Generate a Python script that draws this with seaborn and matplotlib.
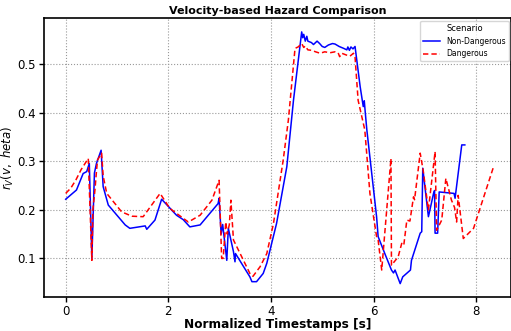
import matplotlib
matplotlib.use("Agg")
import matplotlib.pyplot as plt
import seaborn as sns
import pandas as pd

# Non-Dangerous scenario
nd_x = [0.00, 0.21, 0.34, 0.41, 0.46, 0.51, 0.56, 0.60, 0.69, 0.73, 0.83, 1.16, 1.25, 1.55, 1.58,
        1.74, 1.87, 2.16, 2.29, 2.42, 2.62, 2.97, 2.99, 3.03, 3.06, 3.14, 3.17, 3.27, 3.30, 3.31,
        3.59, 3.63, 3.72, 3.85, 3.92, 4.11, 4.31, 4.44, 4.60, 4.62, 4.64, 4.67, 4.70, 4.72, 4.79,
        4.83, 4.90, 4.95, 5.00, 5.05, 5.12, 5.20, 5.25, 5.33, 5.42, 5.48, 5.50, 5.53, 5.56, 5.60,
        5.64, 5.74, 5.80, 5.82, 5.84, 5.87, 6.06, 6.09, 6.22, 6.35, 6.39, 6.42, 6.52, 6.57, 6.72,
        6.74, 6.91, 6.94, 6.96, 7.07, 7.10, 7.17, 7.19, 7.20, 7.25, 7.28, 7.57, 7.59, 7.72, 7.78]
nd_y = [0.222, 0.241, 0.275, 0.279, 0.296, 0.100, 0.276, 0.296, 0.323, 0.248, 0.210, 0.169, 0.162, 0.167, 0.160,
        0.179, 0.222, 0.189, 0.180, 0.165, 0.169, 0.213, 0.224, 0.150, 0.170, 0.096, 0.162, 0.114, 0.093, 0.110,
        0.062, 0.052, 0.052, 0.069, 0.090, 0.172, 0.289, 0.426, 0.567, 0.555, 0.562, 0.548, 0.558, 0.548, 0.545,
        0.541, 0.548, 0.543, 0.537, 0.535, 0.540, 0.543, 0.542, 0.537, 0.533, 0.530, 0.536, 0.529, 0.536, 0.532,
        0.537, 0.454, 0.413, 0.425, 0.400, 0.365, 0.186, 0.145, 0.110, 0.076, 0.070, 0.076, 0.048, 0.062, 0.076,
        0.096, 0.152, 0.155, 0.286, 0.186, 0.200, 0.234, 0.240, 0.152, 0.152, 0.237, 0.234, 0.224, 0.334, 0.334]

# Dangerous scenario
d_x = [0.00, 0.10, 0.20, 0.30, 0.44, 0.51, 0.53, 0.57, 0.60, 0.62, 0.70, 0.73, 0.80, 1.09, 1.29,
       1.51, 1.84, 2.03, 2.39, 2.62, 2.85, 2.99, 3.04, 3.07, 3.12, 3.15, 3.19, 3.22, 3.27, 3.40,
       3.59, 3.65, 3.79, 3.92, 4.05, 4.24, 4.34, 4.47, 4.53, 4.60, 4.64, 4.67, 4.72, 4.80, 4.87,
       4.96, 5.05, 5.15, 5.25, 5.31, 5.34, 5.38, 5.48, 5.54, 5.61, 5.64, 5.70, 5.83, 5.93, 6.06,
       6.09, 6.16, 6.34, 6.35, 6.48, 6.55, 6.59, 6.65, 6.71, 6.78, 6.80, 6.91, 6.97, 7.07, 7.20,
       7.23, 7.33, 7.41, 7.52, 7.58, 7.62, 7.65, 7.75, 7.95, 8.34]
d_y = [0.234, 0.245, 0.262, 0.283, 0.306, 0.096, 0.200, 0.241, 0.280, 0.303, 0.317, 0.270, 0.234, 0.196, 0.187,
       0.186, 0.234, 0.203, 0.175, 0.189, 0.220, 0.261, 0.100, 0.100, 0.175, 0.150, 0.170, 0.220, 0.138, 0.110,
       0.069, 0.063, 0.083, 0.110, 0.172, 0.303, 0.385, 0.533, 0.536, 0.543, 0.535, 0.538, 0.530, 0.529, 0.526,
       0.523, 0.526, 0.524, 0.526, 0.524, 0.516, 0.523, 0.519, 0.517, 0.523, 0.515, 0.426, 0.365, 0.234, 0.145,
       0.138, 0.076, 0.306, 0.086, 0.103, 0.131, 0.127, 0.179, 0.177, 0.227, 0.221, 0.317, 0.280, 0.200, 0.320,
       0.158, 0.179, 0.265, 0.220, 0.205, 0.175, 0.230, 0.141, 0.162, 0.289]

scenarios = ["Non-Dangerous", "Dangerous"]
x_ticks = [0, 2, 4, 6, 8]
y_ticks = [0.1, 0.2, 0.3, 0.4, 0.5]

df = pd.concat([
    pd.DataFrame({"t": nd_x, "r": nd_y, "Scenario": scenarios[0], "order": range(len(nd_x))}),
    pd.DataFrame({"t": d_x, "r": d_y, "Scenario": scenarios[1], "order": range(len(d_x))}),
], ignore_index=True)

fig = plt.figure(figsize=(5.11, 3.31), dpi=100)
ax = fig.add_axes([0.0867, 0.1036, 0.9133, 0.841])

sns.lineplot(data=df, x="t", y="r", hue="Scenario", style="Scenario",
             hue_order=scenarios, style_order=scenarios,
             palette={"Non-Dangerous": "blue", "Dangerous": "red"},
             dashes={"Non-Dangerous": "", "Dangerous": (3.5, 2)},
             estimator=None, sort=False, linewidth=1.1, ax=ax)

ax.set_xlim(-0.417, 8.68)
ax.set_ylim(0.021, 0.595)
ax.set_xticks(x_ticks)
ax.set_yticks(y_ticks)
ax.tick_params(labelsize=8.5, width=1.0, length=3.5, pad=2.5)
ax.grid(True, linestyle=":", color="#999999", linewidth=0.8)
for s in ax.spines.values():
    s.set_linewidth(1.2)

ax.set_title("Velocity-based Hazard Comparison", fontsize=8, fontweight="bold", pad=3)
ax.set_xlabel("Normalized Timestamps [s]", fontsize=8.7, fontweight="bold", labelpad=0)
ax.set_ylabel(r"$r_V(v,\ heta)$", fontsize=8.5, labelpad=1)

leg = ax.legend(title="Scenario", loc="upper right", fontsize=5.5, title_fontsize=6,
                frameon=True, borderaxespad=0.3, handlelength=2.2)
leg.get_frame().set_edgecolor("#cccccc")

fig.savefig("out.png", dpi=100)
